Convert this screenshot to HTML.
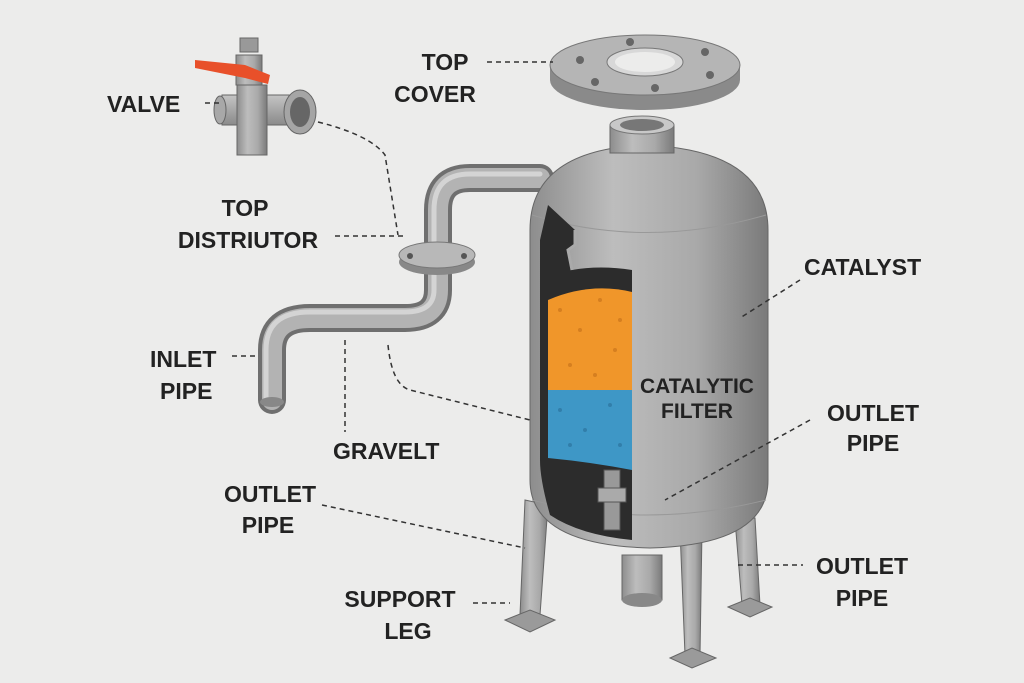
<!DOCTYPE html>
<html><head><meta charset="utf-8"><style>
html,body{margin:0;padding:0;background:#ececeb;}
svg{display:block}
text{font-family:"Liberation Sans",sans-serif;font-weight:bold;fill:#222;font-size:23px}
</style></head><body>
<svg width="1024" height="683" viewBox="0 0 1024 683" xmlns="http://www.w3.org/2000/svg">
<defs>
<linearGradient id="met" x1="0" x2="1" y1="0" y2="0">
<stop offset="0" stop-color="#8d8d8d"/><stop offset="0.35" stop-color="#bdbdbd"/><stop offset="0.7" stop-color="#a9a9a9"/><stop offset="1" stop-color="#7a7a7a"/></linearGradient>
<linearGradient id="metv" x1="0" x2="0" y1="0" y2="1">
<stop offset="0" stop-color="#c4c4c4"/><stop offset="1" stop-color="#8a8a8a"/></linearGradient>
</defs>
<rect width="1024" height="683" fill="#ececeb"/>

<!-- top cover -->
<ellipse cx="645" cy="80" rx="95" ry="30" fill="#8a8a8a"/>
<rect x="550" y="65" width="190" height="15" fill="#8a8a8a"/>
<ellipse cx="645" cy="65" rx="95" ry="30" fill="#b5b5b5" stroke="#777"/>
<ellipse cx="645" cy="62" rx="38" ry="14" fill="#d8d8d8" stroke="#777"/>
<ellipse cx="645" cy="62" rx="30" ry="10" fill="#ececeb"/>
<g fill="#666"><circle cx="580" cy="60" r="4"/><circle cx="705" cy="52" r="4"/><circle cx="710" cy="75" r="4"/><circle cx="595" cy="82" r="4"/><circle cx="655" cy="88" r="4"/><circle cx="630" cy="42" r="4"/></g>

<!-- legs -->
<g fill="url(#met)" stroke="#666">
<path d="M525 500 L548 505 L540 615 L520 615 Z"/>
<path d="M680 530 L702 530 L700 655 L685 655 Z"/>
<path d="M735 520 L755 518 L760 605 L742 605 Z"/>
</g>
<g fill="#9a9a9a" stroke="#666">
<path d="M505 620 L530 610 L555 620 L530 632 Z"/>
<path d="M670 658 L692 648 L716 658 L692 668 Z"/>
<path d="M728 607 L750 598 L772 607 L750 617 Z"/>
</g>
<!-- bottom nozzle -->
<rect x="622" y="555" width="40" height="45" fill="url(#met)" stroke="#666"/>
<ellipse cx="642" cy="600" rx="20" ry="7" fill="#888"/>

<!-- pipe -->
<g fill="none" stroke-linecap="round" stroke-linejoin="round">
<path d="M540 178 L470 178 Q438 178 438 210 L438 290 Q438 318 405 318 L310 318 Q272 318 272 350 L272 400" stroke="#6f6f6f" stroke-width="28"/>
<path d="M540 178 L470 178 Q438 178 438 210 L438 290 Q438 318 405 318 L310 318 Q272 318 272 350 L272 400" stroke="#b3b3b3" stroke-width="20"/>
<path d="M540 174 L470 174 Q434 174 434 210 L434 290 Q434 312 405 312 L310 312 Q266 312 266 350 L266 400" stroke="#d4d4d4" stroke-width="5"/>
</g>
<ellipse cx="272" cy="402" rx="12" ry="5" fill="#888"/>
<!-- flange -->
<ellipse cx="437" cy="262" rx="38" ry="13" fill="#888"/>
<ellipse cx="437" cy="255" rx="38" ry="13" fill="#b8b8b8" stroke="#777"/>
<circle cx="410" cy="256" r="3" fill="#555"/><circle cx="464" cy="256" r="3" fill="#555"/>

<!-- tank body -->
<path d="M530 230 Q530 150 645 145 Q768 150 768 230 L768 480 Q768 545 650 548 Q530 545 530 480 Z" fill="url(#met)" stroke="#666"/>
<path d="M532 215 Q645 250 766 215" fill="none" stroke="#999"/>
<path d="M532 500 Q645 530 766 500" fill="none" stroke="#999"/>
<!-- neck -->
<rect x="610" y="125" width="64" height="28" fill="url(#met)" stroke="#666"/>
<ellipse cx="642" cy="125" rx="32" ry="9" fill="#c8c8c8" stroke="#777"/>
<ellipse cx="642" cy="125" rx="22" ry="6" fill="#777"/>

<!-- cutaway -->
<path d="M548 205 L575 230 L575 245 L568 250 L572 270 Q600 265 632 270 L632 540 Q580 535 550 515 Q540 480 540 460 L540 240 Z" fill="#2c2c2c"/>
<path d="M575 230 L575 245 L568 250 L572 270" fill="none" stroke="#aaa" stroke-width="3"/>
<!-- catalyst -->
<path d="M548 300 Q590 282 632 292 L632 390 L548 390 Z" fill="#f0962a"/>
<path d="M548 390 L632 390 L632 470 Q590 462 548 458 Z" fill="#3e97c6"/>
<g fill="#c4701a" opacity="0.6"><circle cx="560" cy="310" r="2"/><circle cx="580" cy="330" r="2"/><circle cx="600" cy="300" r="2"/><circle cx="615" cy="350" r="2"/><circle cx="570" cy="365" r="2"/><circle cx="595" cy="375" r="2"/><circle cx="620" cy="320" r="2"/></g>
<g fill="#2a6e98" opacity="0.6"><circle cx="560" cy="410" r="2"/><circle cx="585" cy="430" r="2"/><circle cx="610" cy="405" r="2"/><circle cx="620" cy="445" r="2"/><circle cx="570" cy="445" r="2"/></g>
<rect x="604" y="470" width="16" height="60" fill="#999" stroke="#555"/>
<rect x="598" y="488" width="28" height="14" fill="#aaa" stroke="#555"/>

<!-- valve -->
<rect x="240" y="38" width="18" height="14" fill="#999" stroke="#666"/>
<rect x="236" y="55" width="26" height="30" fill="url(#met)" stroke="#666"/>
<path d="M195 60 L245 65 L270 75 L268 84 L245 78 L195 68 Z" fill="#e8502a"/>
<rect x="222" y="95" width="80" height="30" fill="url(#metv)" stroke="#666"/>
<rect x="237" y="85" width="30" height="70" fill="url(#met)" stroke="#666"/>
<ellipse cx="300" cy="112" rx="16" ry="22" fill="#a5a5a5" stroke="#666"/>
<ellipse cx="300" cy="112" rx="10" ry="15" fill="#666"/>
<ellipse cx="220" cy="110" rx="6" ry="14" fill="#a8a8a8" stroke="#666"/>

<!-- dashed leaders -->
<g fill="none" stroke="#333" stroke-width="1.5" stroke-dasharray="5,4">
<path d="M205 103 L222 103"/>
<path d="M318 122 Q370 135 385 155 L398 235"/>
<path d="M487 62 L553 62"/>
<path d="M335 236 L405 236"/>
<path d="M800 280 L740 318"/>
<path d="M232 356 L256 356"/>
<path d="M345 340 L345 432"/>
<path d="M388 345 Q392 385 410 390 L530 420"/>
<path d="M810 420 L665 500"/>
<path d="M322 505 L525 548"/>
<path d="M473 603 L510 603"/>
<path d="M738 565 L803 565"/>
</g>

<!-- labels -->
<text x="107" y="112">VALVE</text>
<text x="445" y="70" text-anchor="middle">TOP</text>
<text x="435" y="102" text-anchor="middle">COVER</text>
<text x="245" y="216" text-anchor="middle">TOP</text>
<text x="248" y="248" text-anchor="middle">DISTRIUTOR</text>
<text x="804" y="275">CATALYST</text>
<text x="150" y="367">INLET</text>
<text x="160" y="399">PIPE</text>
<text x="333" y="459">GRAVELT</text>
<text x="697" y="393" text-anchor="middle" style="font-size:21px">CATALYTIC</text>
<text x="697" y="418" text-anchor="middle" style="font-size:21px">FILTER</text>
<text x="873" y="421" text-anchor="middle">OUTLET</text>
<text x="873" y="451" text-anchor="middle">PIPE</text>
<text x="270" y="502" text-anchor="middle">OUTLET</text>
<text x="268" y="533" text-anchor="middle">PIPE</text>
<text x="400" y="607" text-anchor="middle">SUPPORT</text>
<text x="408" y="639" text-anchor="middle">LEG</text>
<text x="862" y="574" text-anchor="middle">OUTLET</text>
<text x="862" y="606" text-anchor="middle">PIPE</text>
</svg>
</body></html>
